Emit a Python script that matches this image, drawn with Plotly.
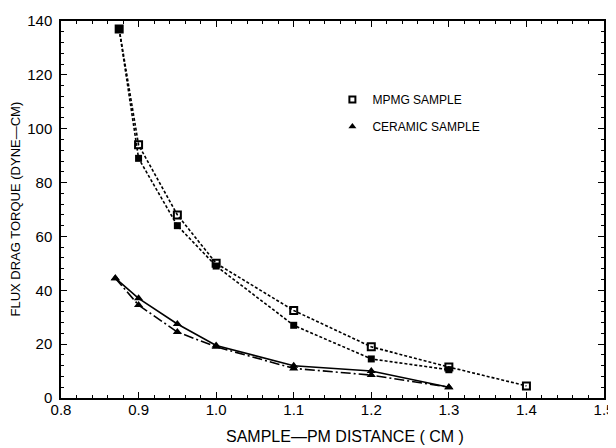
import plotly.graph_objects as go

# MPMG sample, two runs
mpmg1_x = [0.875, 0.9, 0.95, 1.0, 1.1, 1.2, 1.3, 1.4]
mpmg1_y = [137, 94, 68, 50, 32.5, 19, 11.5, 4.5]
mpmg2_x = [0.875, 0.9, 0.95, 1.0, 1.1, 1.2, 1.3]
mpmg2_y = [137, 89, 64, 49, 27, 14.5, 10.5]

# Ceramic sample, two runs
cer1_x = [0.87, 0.9, 0.95, 1.0, 1.1, 1.2, 1.3]
cer1_y = [44.5, 37, 27.5, 19.5, 12, 10, 4]
cer2_x = [0.87, 0.9, 0.95, 1.0, 1.1, 1.2, 1.3]
cer2_y = [44.5, 34.5, 24.5, 19, 11, 8.5, 4]

legend_names = ["MPMG SAMPLE", "CERAMIC SAMPLE"]
x_title = "SAMPLE—PM DISTANCE ( CM )"
y_title = "FLUX DRAG TORQUE (DYNE—CM)"

FONT = "Liberation Sans, Arial, sans-serif"
fig = go.Figure()

fig.add_trace(go.Scatter(x=mpmg1_x, y=mpmg1_y, mode="lines+markers", showlegend=False,
                         line=dict(color="black", width=1.6, dash="3px,2px"),
                         marker=dict(symbol="square-open", size=7, color="black", line=dict(width=2))))
fig.add_trace(go.Scatter(x=mpmg2_x, y=mpmg2_y, mode="lines+markers", showlegend=False,
                         line=dict(color="black", width=1.6, dash="3px,2px"),
                         marker=dict(symbol="square", size=7, color="black")))
fig.add_trace(go.Scatter(x=cer1_x, y=cer1_y, mode="lines+markers", showlegend=False,
                         line=dict(color="black", width=1.6),
                         marker=dict(symbol="triangle-up", size=8, color="black")))
fig.add_trace(go.Scatter(x=cer2_x, y=cer2_y, mode="lines+markers", showlegend=False,
                         line=dict(color="black", width=1.6, dash="10px,3px,2px,3px"),
                         marker=dict(symbol="triangle-up", size=8, color="black")))

# legend entries
fig.add_trace(go.Scatter(x=[None], y=[None], mode="markers", name=legend_names[0], legendgroup="a",
                         marker=dict(symbol="square-open", size=6, color="black", line=dict(width=2))))
fig.add_trace(go.Scatter(x=[None], y=[None], mode="markers", name=legend_names[1], legendgroup="b",
                         marker=dict(symbol="triangle-up", size=7, color="black")))

axis_common = dict(showline=True, linecolor="black", linewidth=1.5, mirror="ticks",
                   ticks="inside", tickcolor="black", ticklen=6, tickwidth=1.2,
                   showgrid=False, zeroline=False, automargin=False,
                   tickfont=dict(family=FONT, size=15, color="black"))

fig.update_layout(
    width=608, height=440,
    paper_bgcolor="white", plot_bgcolor="white",
    margin=dict(l=53, r=12, t=13, b=50),
    font=dict(family=FONT, color="black"),
    xaxis=dict(range=[0.8, 1.5], dtick=0.1, tickformat=".1f", ticklabelstandoff=-3,
               minor=dict(dtick=0.02, ticks="inside", ticklen=3, tickcolor="black"),
               **axis_common),
    yaxis=dict(range=[0, 140], dtick=20, ticklabelstandoff=4,
               minor=dict(dtick=4, ticks="inside", ticklen=3, tickcolor="black"),
               **axis_common),
    legend=dict(x=0.4998, y=0.83, xanchor="left", yanchor="top", bgcolor="rgba(0,0,0,0)",
                font=dict(family=FONT, size=12, color="black"), tracegroupgap=8, itemwidth=30),
    annotations=[
        dict(text=x_title, xref="paper", yref="paper", x=0.523, y=-0.1034,
             xanchor="center", yanchor="middle", showarrow=False,
             font=dict(family=FONT, size=16, color="black")),
        dict(text=y_title, xref="paper", yref="paper", x=-0.0847, y=0.5,
             xanchor="center", yanchor="middle", textangle=-90, showarrow=False,
             font=dict(family=FONT, size=13, color="black")),
    ],
)

fig.write_html("out.html")
